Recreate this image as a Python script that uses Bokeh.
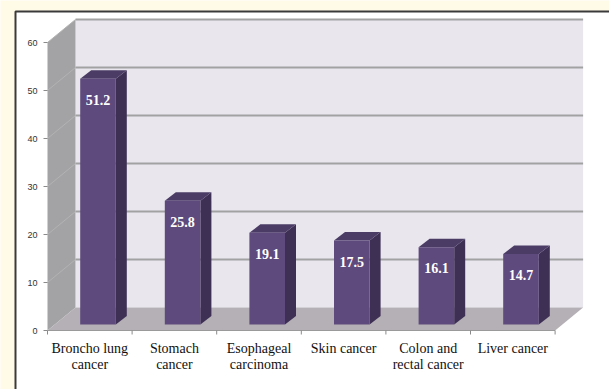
from bokeh.plotting import figure
from bokeh.models import Range1d
from bokeh.embed import file_html
from bokeh.resources import INLINE
from bokeh.core.properties import value

# ---- data ----
categories = ["Broncho lung\ncancer", "Stomach\ncancer", "Esophageal\ncarcinoma",
              "Skin cancer", "Colon and\nrectal cancer", "Liver cancer"]
values = [51.2, 25.8, 19.1, 17.5, 16.1, 14.7]
yticks = [0, 10, 20, 30, 40, 50, 60]

# ---- layout constants (pixels) ----
W, H = 609, 389
OX, OY = 47, 330          # pixel position of the front-left origin
PXC = 84.6                # pixels per category
PXV = 4.8                 # pixels per unit value
YMAX = 60

def fx(px):   # pixel x offset -> data x offset
    return px / PXC

def fy(py):   # pixel y offset -> data y offset
    return py / PXV

def X(px):    # absolute pixel x -> data x
    return (px - OX) / PXC

def Y(py):    # absolute pixel y -> data y
    return (OY - py) / PXV

n = len(categories)
DX, DY = fx(28), fy(23)          # wall depth
BDX, BDY = fx(11), fy(8.5)       # bar depth
BASE = fy(6)                     # bar base above the front floor edge
FACE_OFF = fx(8.2)               # bar face centre offset from category centre
FACE_HW = fx(17.8)               # half width of bar face

p = figure(width=W, height=H, output_backend="svg", toolbar_location=None,
           x_range=Range1d(X(0), X(W)), y_range=Range1d(Y(H), Y(0)),
           min_border=0)
p.axis.visible = False
p.grid.visible = False
p.outline_line_color = None
p.background_fill_color = "#fffbe7"
p.border_fill_color = "#fffbe7"

# white panel with dark border
p.quad(left=X(15), right=X(W + 5), bottom=Y(H + 5), top=Y(11),
       fill_color="white", line_color=None)
p.line(x=[X(15), X(15), X(W + 5)], y=[Y(H + 5), Y(11), Y(11)],
       line_color="#3a3a3a", line_width=2)

# back wall
p.quad(left=DX, right=n + DX, bottom=DY, top=YMAX + DY,
       fill_color="#e9e6ee", line_color=None)
# left side wall
p.patch(x=[0, DX, DX, 0], y=[0, DY, YMAX + DY, YMAX],
        fill_color="#a3a2a5", line_color=None)
# floor
p.patch(x=[0, n, n + DX, DX], y=[0, 0, DY, DY],
        fill_color="#b4b0b5", line_color=None)

# gridlines on back wall and side wall
for t in yticks:
    if t == 0:
        continue
    p.line(x=[DX, n + DX], y=[t + DY, t + DY], line_color="#a2a2a2", line_width=2)
    p.line(x=[0, DX], y=[t, t + DY], line_color="#b3b3b3", line_width=1)

# floor front edge and axis ticks
p.line(x=[0, n], y=[0, 0], line_color="#9a9a9a", line_width=1)
p.segment(x0=[fx(-4)] * len(yticks), y0=yticks, x1=[0] * len(yticks), y1=yticks,
          line_color="#8a8a8a", line_width=1)
p.segment(x0=list(range(n + 1)), y0=[0] * (n + 1),
          x1=list(range(n + 1)), y1=[fy(-4)] * (n + 1),
          line_color="#8a8a8a", line_width=1)

# y tick labels
p.text(x=[fx(-10)] * len(yticks), y=yticks, text=[str(t) for t in yticks],
       text_align="right", text_baseline="middle", text_font=value("Liberation Sans"),
       text_font_size="9px", text_color="#333333")

# bars
for i, v in enumerate(values):
    c = i + 0.5 + FACE_OFF
    l, r = c - FACE_HW, c + FACE_HW
    b, t = BASE, BASE + v
    # side
    p.patch(x=[r, r + BDX, r + BDX, r], y=[b, b + BDY, t + BDY, t],
            fill_color="#3e3055", line_color=None)
    # top
    p.patch(x=[l, l + BDX, r + BDX, r], y=[t, t + BDY, t + BDY, t],
            fill_color="#4b3c66", line_color=None)
    # front
    p.quad(left=l, right=r, bottom=b, top=t, fill_color="#5e4a7c", line_color=None)

# value labels
p.text(x=[i + 0.5 + FACE_OFF for i in range(n)],
       y=[BASE + v - fy(21) for v in values],
       text=[f"{v:.1f}" for v in values],
       text_align="center", text_baseline="middle",
       text_font=value("Liberation Serif"), text_font_style="bold",
       text_font_size="14px", text_color="white")

# category labels
p.text(x=[i + 0.5 for i in range(n)], y=[fy(-10)] * n, text=categories,
       text_align="center", text_baseline="top",
       text_font=value("Liberation Serif"), text_font_size="14px",
       text_color="#111111", text_line_height=1.1)

open("out.html", "w").write(file_html(p, INLINE))
